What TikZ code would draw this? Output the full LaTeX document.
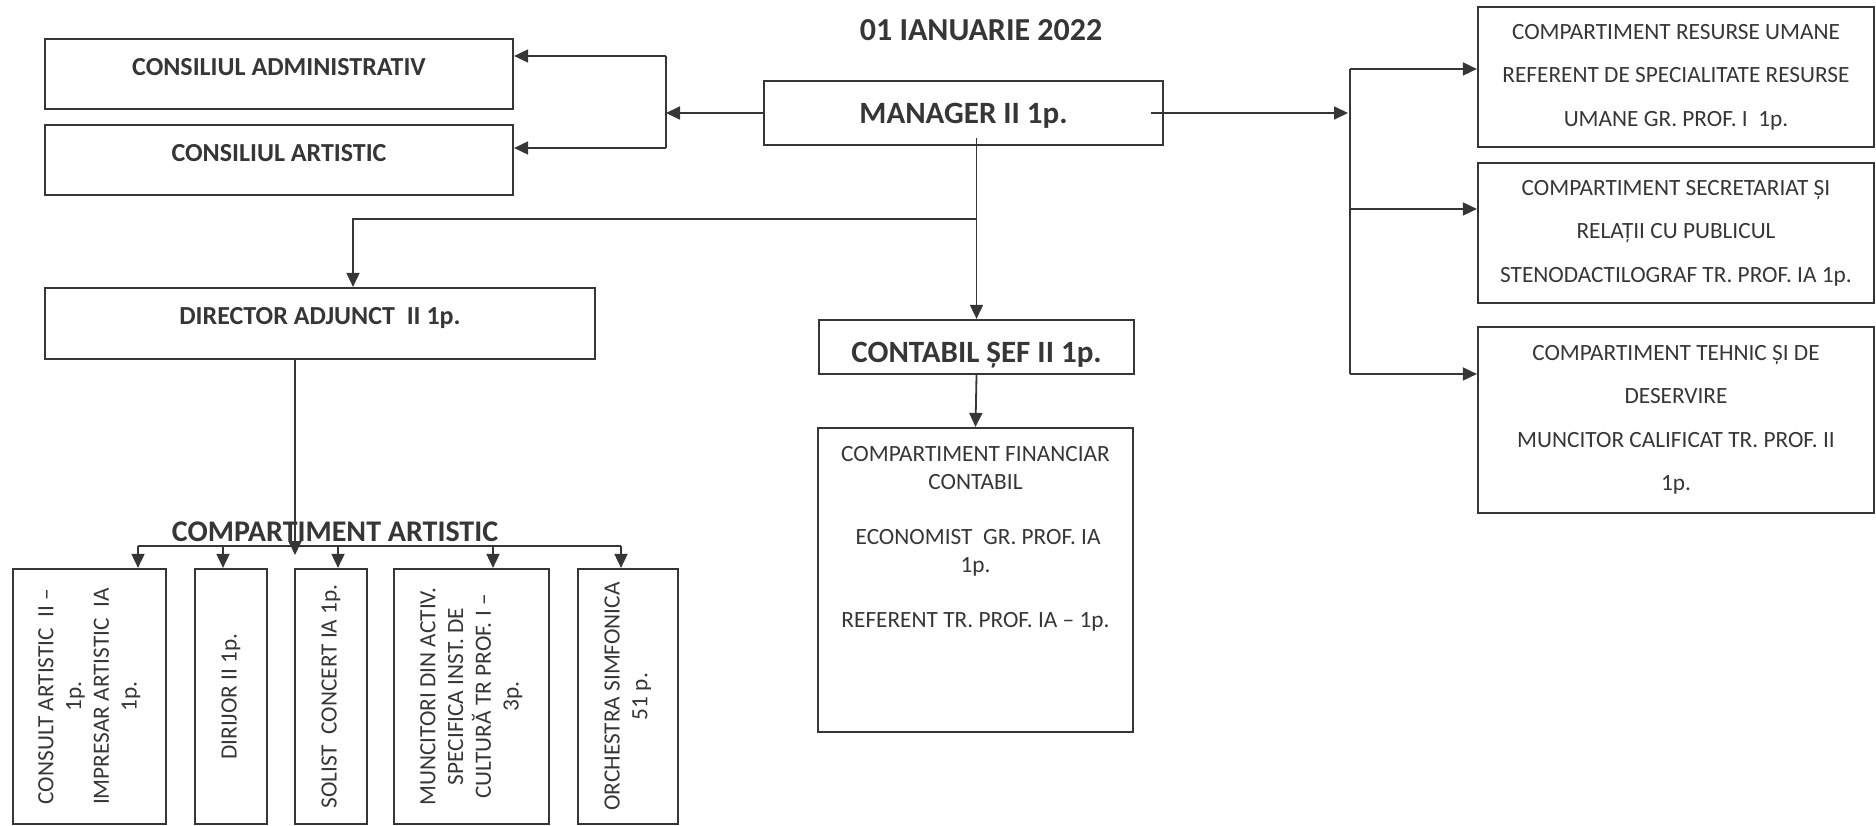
\documentclass[tikz,border=0pt]{standalone}
\usepackage{fontspec}
\setmainfont{Carlito}
\usepackage{graphicx}
\usetikzlibrary{arrows.meta,positioning}
\definecolor{ink}{HTML}{363636}
\newcommand\txtsmall{\fontsize{23.3}{27.7}\selectfont}
\newcommand\txtwide{\fontsize{23.3}{43.5}\selectfont}
\newcommand\hdsmall{\fontsize{26}{30}\selectfont\bfseries}
\newcommand\hdbig{\fontsize{31}{36}\selectfont\bfseries}
\tikzset{every node/.style={text=ink, inner sep=0pt},
  box/.style={draw=ink, line width=2.2pt},
  rbox/.style={box, minimum width=396pt, align=center, font=\txtwide},
  vbox/.style={box, minimum height=255pt, font=\txtsmall},
  conn/.style={draw=ink, line width=1.8pt},
  arr/.style={conn, -{Triangle[length=14pt,width=13pt]}}}

\begin{document}
\begin{tikzpicture}[x=1pt,y=-1pt]
   \useasboundingbox (0,0) rectangle (1876,826);
   \node[font=\fontsize{32}{38}\selectfont\bfseries] (date) at (981,30) {01 IANUARIE 2022};
   \node[box, minimum width=468pt, minimum height=70pt, font=\hdsmall, text depth=15pt] (adm) at (279,74) {CONSILIUL ADMINISTRATIV};
   \node[box, minimum width=468pt, minimum height=70pt, font=\hdsmall, text depth=15pt] (art) at (279,160) {CONSILIUL ARTISTIC};
   \node[box, minimum width=399pt, minimum height=64pt, font=\hdbig, text depth=0pt] (mgr) at (963.5,113) {MANAGER II 1p.};
   \node[box, minimum width=550pt, minimum height=71pt, font=\hdsmall, text depth=15pt] (dir) at (320,323.5) {DIRECTOR ADJUNCT\ \ II 1p.};
   \node[box, minimum width=315pt, minimum height=54pt, font=\hdbig, text height=30pt, text depth=0pt] (ctb) at (976.5,347) {CONTABIL ȘEF II 1p.};
   \node[box, minimum width=315pt, minimum height=304pt] (fin) at (975.5,580) {};
   \node[below=19.5pt of fin.north, align=center, font=\txtsmall] (finTxt) {COMPARTIMENT FINANCIAR\\CONTABIL\\[27.7pt]\ ECONOMIST\ \ GR. PROF. IA\\1p.\\[27.7pt]REFERENT TR. PROF. IA -- 1p.};
   \node[rbox, minimum height=140pt] (hr) at (1676,77) {COMPARTIMENT RESURSE UMANE\\REFERENT DE SPECIALITATE RESURSE\\UMANE GR. PROF. I\ \ 1p.};
   \node[rbox, minimum height=140pt] (sec) at (1676,233) {COMPARTIMENT SECRETARIAT ȘI\\RELAȚII CU PUBLICUL\\STENODACTILOGRAF TR. PROF. IA 1p.};
   \node[rbox, minimum height=186pt] (teh) at (1676,420) {COMPARTIMENT TEHNIC ȘI DE\\DESERVIRE\\MUNCITOR CALIFICAT TR. PROF. II\\1p.};
   \node[font=\fontsize{30}{36}\selectfont\bfseries] (artHead) at (335,532) {COMPARTIMENT ARTISTIC};
   \node[vbox, minimum width=153pt] (b1) at (89.5,696.5) {\rotatebox{90}{\begin{tabular}{@{}c@{}}CONSULT ARTISTIC\ \ II --\\1p.\\IMPRESAR ARTISTIC\ \ IA\\1p.\end{tabular}}};
   \node[vbox, minimum width=72pt] (b2) at (231,696.5) {\rotatebox{90}{DIRIJOR II 1p.}};
   \node[vbox, minimum width=72pt] (b3) at (331,696.5) {\rotatebox{90}{SOLIST\ \ CONCERT IA 1p.}};
   \node[vbox, minimum width=155pt] (b4) at (471.5,696.5) {\rotatebox{90}{\begin{tabular}{@{}c@{}}MUNCITORI DIN ACTIV.\\SPECIFICA INST. DE\\CULTURĂ TR PROF. I --\\3p.\end{tabular}}};
   \node[vbox, minimum width=100pt] (b5) at (628,696.5) {\rotatebox{90}{\begin{tabular}{@{}c@{}}ORCHESTRA SIMFONICA\\51 p.\end{tabular}}};
   \coordinate (brL) at (666,113);
   \coordinate (brLtop) at (666,56);
   \coordinate (brLbot) at (666,148);
   \draw[arr] (mgr.west) -- (brL);
   \draw[conn] (brLtop) -- (brLbot);
   \draw[arr] (brLtop) -- (brLtop -| adm.east);
   \draw[arr] (brLbot) -- (brLbot -| art.east);
   \coordinate (mgrR) at ([xshift=-13pt]mgr.east);
   \coordinate (brR) at (1348,113);
   \coordinate (brRtop) at (1350,69);
   \coordinate (brRmid) at (1350,209);
   \coordinate (brRbot) at (1350,374);
   \draw[arr] (mgrR) -- (brR);
   \draw[conn] (brRtop) -- (brRbot);
   \foreach \c/\n in {brRtop/hr, brRmid/sec, brRbot/teh}
      \draw[arr] (\c) -- (\c -| \n.west);
   \coordinate (mgrB) at ([yshift=8pt]mgr.south);
   \coordinate (split) at (976.5,219);
   \draw[arr] (mgrB -| ctb.north) -- (ctb.north);
   \draw[arr] (split) -| ([xshift=33pt]dir.north);
   \draw[arr] (ctb.south) -- (fin.north);
   \coordinate (artTip) at (295,555);
   \coordinate (artL) at (138,546);
   \coordinate (artR) at (621,546);
   \draw[arr] ([xshift=-25pt]dir.south) -- (artTip);
   \draw[conn] (artL) -- (artR);
   \foreach \b/\dx in {b1/48.5, b2/-8, b3/7, b4/21.5, b5/-7} {
      \coordinate (top) at ([xshift=\dx pt]\b.north);
      \draw[arr] (top |- artL) -- (top);
   }
\end{tikzpicture}
\end{document}
